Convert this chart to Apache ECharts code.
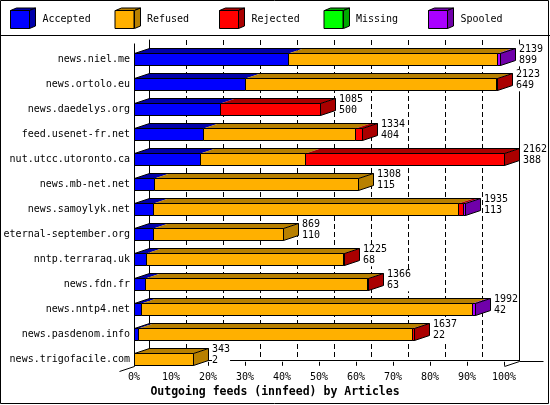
<!DOCTYPE html>
<html><head><meta charset="utf-8">
<script src="https://cdn.jsdelivr.net/npm/echarts@6/dist/echarts.min.js"></script>
<style>html,body{margin:0;padding:0;background:#fff}#c{width:550px;height:405px}</style>
</head><body><div id="c"></div>
<script>
const categories = ['news.niel.me','news.ortolo.eu','news.daedelys.org','feed.usenet-fr.net','nut.utcc.utoronto.ca','news.mb-net.net','news.samoylyk.net','eternal-september.org','nntp.terraraq.uk','news.fdn.fr','news.nntp4.net','news.pasdenom.info','news.trigofacile.com'];
const offered  = [2139,2123,1085,1334,2162,1308,1935,869,1225,1366,1992,1637,343];
const accepted = [899,649,500,404,388,115,113,110,68,63,42,22,2];
const refused  = [1220,1469,0,890,612,1193,1783,759,1154,1299,1934,1605,341];
const rejected = [0,5,585,40,1162,0,25,0,3,4,0,10,0];
const missing  = [0,0,0,0,0,0,0,0,0,0,0,0,0];
const spooled  = [20,0,0,0,0,0,14,0,0,0,16,0,0];
const seriesNames = ['Accepted','Refused','Rejected','Missing','Spooled'];
const axisTitle = 'Outgoing feeds (innfeed) by Articles';

const frontColors = ['#0000ff','#ffb000','#ff0000','#00ff00','#aa00ff'];
const darkColors  = ['#0000aa','#b88000','#aa0000','#00aa00','#7000aa'];
const FONT = '"DejaVu Sans Mono", monospace';
const DX = 15, DY = 5, H = 12;

const parts = [accepted, refused, rejected, missing, spooled];
const maxTotal = Math.max(...offered);
const pct = v => v / maxTotal * 100;

const lastIdx = categories.map((_, i) => {
  let l = 0;
  parts.forEach((arr, s) => { if (arr[i] > 0) l = s; });
  return l;
});

const series = parts.map((arr, s) => {
  const data = [];
  categories.forEach((c, i) => {
    let start = 0;
    for (let k = 0; k < s; k++) start += parts[k][i];
    data.push([pct(start), pct(start + arr[i]), i, lastIdx[i] === s ? 1 : 0]);
  });
  return {
    type: 'custom', name: seriesNames[s], xAxisIndex: 0, yAxisIndex: 0,
    itemStyle: { color: frontColors[s] },
    encode: { x: [0, 1], y: 2 },
    data,
    renderItem: function (params, api) {
      const a = api.value(0), b = api.value(1), row = api.value(2), last = api.value(3);
      if (b - a <= 0) return null;
      const p0 = api.coord([a, row]);
      const p1 = api.coord([b, row]);
      const pr = api.coord([0, row]);
      const x0 = Math.round(p0[0]) + 0.5, x1 = Math.round(p1[0]) + 0.5;
      const top = Math.round(p0[1] - H / 2) + 0.5, bot = top + H;
      const children = [
        { type: 'polygon', shape: { points: [[x0, top], [x0 + DX, top - DY], [x1 + DX, top - DY], [x1, top]] },
          style: { fill: darkColors[s], stroke: null } },
        { type: 'rect', shape: { x: x0, y: top, width: x1 - x0, height: H },
          style: { fill: frontColors[s], stroke: '#000', lineWidth: 1 } }
      ];
      if (last) {
        const xs = Math.round(pr[0]) + 0.5;
        children.push({ type: 'polygon', shape: { points: [[x1, top], [x1 + DX, top - DY], [x1 + DX, bot - DY], [x1, bot]] },
          style: { fill: darkColors[s], stroke: '#000', lineWidth: 1 } });
        children.push({ type: 'polyline', shape: { points: [[xs, top], [xs + DX, top - DY], [x1 + DX, top - DY]] },
          style: { fill: null, stroke: '#000', lineWidth: 1 } });
      }
      return { type: 'group', children };
    }
  };
});

series.push({
  type: 'custom', name: 'labels', xAxisIndex: 0, yAxisIndex: 0, z: 5,
  encode: { x: 0, y: 1 },
  data: categories.map((c, i) => [pct(offered[i]), i, offered[i], accepted[i]]),
  renderItem: function (params, api) {
    const p = api.coord([api.value(0), api.value(1)]);
    return {
      type: 'text', x: Math.round(p[0]) + DX + 4, y: p[1] - 4,
      style: { text: api.value(2) + '\n' + api.value(3), fill: '#000', font: '10px ' + FONT,
        lineHeight: 11, align: 'left', verticalAlign: 'middle', backgroundColor: '#fff' }
    };
  }
});

const legends = seriesNames.map((n, i) => ({
  data: [n], left: 10 + 104.5 * i, top: 10, orient: 'horizontal', padding: 0,
  icon: 'rect', itemWidth: 19, itemHeight: 18, selectedMode: false,
  itemStyle: { borderColor: '#000', borderWidth: 1 },
  textStyle: { fontFamily: FONT, fontSize: 10, color: '#000', padding: [0, 0, 0, 8] }
}));

const option = {
  animation: false,
  backgroundColor: '#fff',
  legend: legends,
  title: { text: axisTitle, left: 'center', top: 386, padding: 0,
    textStyle: { fontFamily: FONT, fontSize: 11.5, fontWeight: 'bold', color: '#000' } },
  grid: [
    { left: 134, width: 370, top: 46.8, height: 325 },
    { left: 149, width: 370, top: 40, bottom: 44.3 }
  ],
  xAxis: [
    { gridIndex: 0, type: 'value', min: 0, max: 100, interval: 10, offset: -6,
      axisLine: { show: false }, axisTick: { show: true, inside: true, length: 4, lineStyle: { color: '#000' } },
      splitLine: { show: false },
      axisLabel: { formatter: v => v + '%', fontFamily: FONT, fontSize: 10, color: '#000', margin: 7 } },
    { gridIndex: 1, type: 'value', min: 0, max: 100, interval: 10,
      axisLine: { show: true, lineStyle: { color: '#000' } }, axisTick: { show: false }, axisLabel: { show: false },
      splitLine: { show: true, lineStyle: { color: '#000', type: [5, 3], width: 1 } } }
  ],
  yAxis: [
    { gridIndex: 0, type: 'category', data: categories, inverse: true,
      axisLine: { show: false }, axisTick: { show: false },
      axisLabel: { fontFamily: FONT, fontSize: 10, color: '#000', margin: 4 } },
    { gridIndex: 1, type: 'value', min: 0, max: 1, position: 'left',
      axisLine: { show: true, lineStyle: { color: '#000' } }, axisTick: { show: false }, axisLabel: { show: false }, splitLine: { show: false } },
    { gridIndex: 1, type: 'value', min: 0, max: 1, position: 'right',
      axisLine: { show: true, lineStyle: { color: '#000' } }, axisTick: { show: false }, axisLabel: { show: false }, splitLine: { show: false } }
  ],
  series
};

const chart = echarts.init(document.getElementById('c'), null, { renderer: 'canvas' });
chart.setOption(option);

const fx0 = Math.round(chart.convertToPixel({ xAxisIndex: 0 }, 0)) + 0.5;
const fx100 = Math.round(chart.convertToPixel({ xAxisIndex: 0 }, 100)) + 0.5;
const bx100 = Math.round(chart.convertToPixel({ xAxisIndex: 1 }, 100)) + 0.5;
const backBottom = Math.round(chart.convertToPixel({ yAxisIndex: 1 }, 0)) + 0.5;
const backTop = Math.round(chart.convertToPixel({ yAxisIndex: 1 }, 1)) + 0.5;
const floorY = backBottom + DY;
const ln = (x1, y1, x2, y2) => ({ type: 'line', silent: true, z: 1,
  shape: { x1, y1, x2, y2 }, style: { stroke: '#000', lineWidth: 1 } });
const graphic = [
  { type: 'rect', silent: true, shape: { x: 0.5, y: 0.5, width: 548, height: 403 }, style: { fill: null, stroke: '#000', lineWidth: 1 } },
  ln(0, 35.5, 550, 35.5),
  ln(fx0, backTop + 3, fx0, floorY),
  ln(fx0, floorY, fx0 - DX, floorY + DY),
  ln(fx100, floorY, bx100, backBottom),
  ln(bx100, backBottom, bx100 + 24, backBottom)
];
seriesNames.forEach((n, i) => {
  const L = Math.round(10 + 104.5 * i) + 0.5, T = 10.5, W = 19, HH = 18;
  graphic.push({ type: 'polygon', silent: true, z: 10, shape: { points: [[L, T], [L + 6, T - 2.5], [L + W + 6, T - 2.5], [L + W, T]] },
    style: { fill: darkColors[i], stroke: '#000', lineWidth: 1 } });
  graphic.push({ type: 'polygon', silent: true, z: 10, shape: { points: [[L + W, T], [L + W + 6, T - 2.5], [L + W + 6, T + HH - 2.5], [L + W, T + HH]] },
    style: { fill: darkColors[i], stroke: '#000', lineWidth: 1 } });
});
chart.setOption({ graphic });
</script></body></html>
